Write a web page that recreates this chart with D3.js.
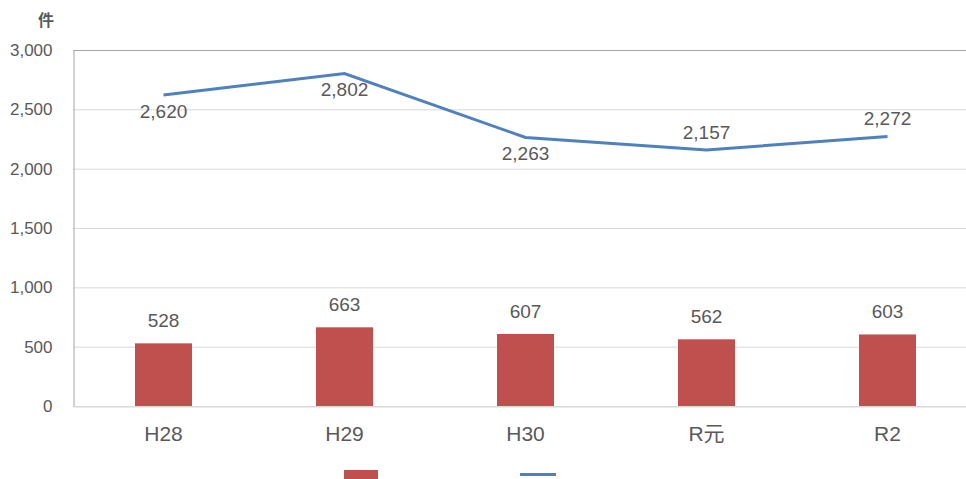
<!DOCTYPE html>
<html>
<head>
<meta charset="utf-8">
<script src="https://cdn.jsdelivr.net/npm/d3@7"></script>
<style>
  body { margin:0; background:#fff; }
  svg { display:block; }
  text { font-family: "Liberation Sans", Arial, "Noto Sans CJK JP", sans-serif; fill:#595959; }
</style>
</head>
<body>
<div id="chart"></div>
<script>
const W = 966, H = 479;
const svg = d3.select("#chart").append("svg").attr("width",W).attr("height",H);

// data
var years = ["H28","H29","H30","R元","R2"];
var barVals = [528,663,607,562,603];
var lineVals = [2620,2802,2263,2157,2272];
var lineLabelPos = ["below","below","below","above","above"];
var yTicks = [0,500,1000,1500,2000,2500,3000];

const plotLeft = 73, plotTop = 50, plotBottom = 406, bandW = 181;

var x = d3.scaleBand().domain(years).range([plotLeft, plotLeft+bandW*years.length]).paddingInner(0.685).paddingOuter(0.3425);
var y = d3.scaleLinear().domain([0,3000]).range([plotBottom, plotTop]);
var fmt = d3.format(",");

// grid
svg.append("g").selectAll("line").data(yTicks).enter().append("line")
  .attr("x1",plotLeft).attr("x2",W)
  .attr("y1",d=>y(d)+0.5).attr("y2",d=>y(d)+0.5)
  .attr("stroke",d=>d==3000 ? "#a6a6a6" : "#d9d9d9");

// y axis
var yAxis = d3.axisLeft(y).tickValues(yTicks).tickFormat(fmt).tickSize(0).tickPadding(21);
var gy = svg.append("g").attr("transform","translate("+(plotLeft+0.5)+",0)").call(yAxis);
gy.select(".domain").attr("stroke","#a6a6a6");
gy.selectAll("text").style("font-size","17px").style("font-family","'Liberation Sans', Arial, sans-serif").attr("fill","#595959");

svg.append("text").attr("x",46).attr("y",26).attr("text-anchor","middle")
  .style("font-size","16px").style("font-weight","bold").style("font-family","'Noto Sans CJK JP', sans-serif")
  .attr("fill","#404040").text("件");

// bars
svg.append("g").selectAll("rect").data(barVals).enter().append("rect")
  .attr("x",(d,i)=>x(years[i]))
  .attr("y",d=>y(d))
  .attr("width",x.bandwidth())
  .attr("height",d=>plotBottom-y(d))
  .attr("fill","#c0504d");

// bar labels
svg.append("g").selectAll("text").data(barVals).enter().append("text")
  .attr("x",(d,i)=>x(years[i])+x.bandwidth()/2)
  .attr("y",d=>y(d)-16)
  .attr("text-anchor","middle")
  .style("font-size","19px")
  .text(d=>fmt(d));

// x axis
var xAxis = d3.axisBottom(x).tickSize(0).tickPadding(34);
var gx = svg.append("g").attr("transform","translate(0,"+(plotBottom+0.5)+")").call(xAxis);
gx.select(".domain").attr("stroke","#d9d9d9");
gx.selectAll("text").attr("dy",0).style("font-size","21px")
  .style("font-family","'Liberation Sans', Arial, 'Noto Sans CJK JP', sans-serif").attr("fill","#595959");

// line
var line = d3.line().x((d,i)=>x(years[i])+x.bandwidth()/2).y(d=>y(d));
svg.append("path").datum(lineVals).attr("d",line)
  .attr("fill","none").attr("stroke","#4f81bd").attr("stroke-width",3);

svg.append("g").selectAll("text").data(lineVals).enter().append("text")
  .attr("x",(d,i)=>x(years[i])+x.bandwidth()/2)
  .attr("y",(d,i)=> lineLabelPos[i]=="below" ? y(d)+23 : y(d)-11)
  .attr("text-anchor","middle")
  .style("font-size","19px")
  .text(d=>fmt(d));

// legend (clipped at bottom)
svg.append("rect").attr("x",344).attr("y",470).attr("width",34).attr("height",12).attr("fill","#c0504d");
svg.append("line").attr("x1",520).attr("x2",556).attr("y1",474.5).attr("y2",474.5)
  .attr("stroke","#4f81bd").attr("stroke-width",3);
</script>
</body>
</html>
